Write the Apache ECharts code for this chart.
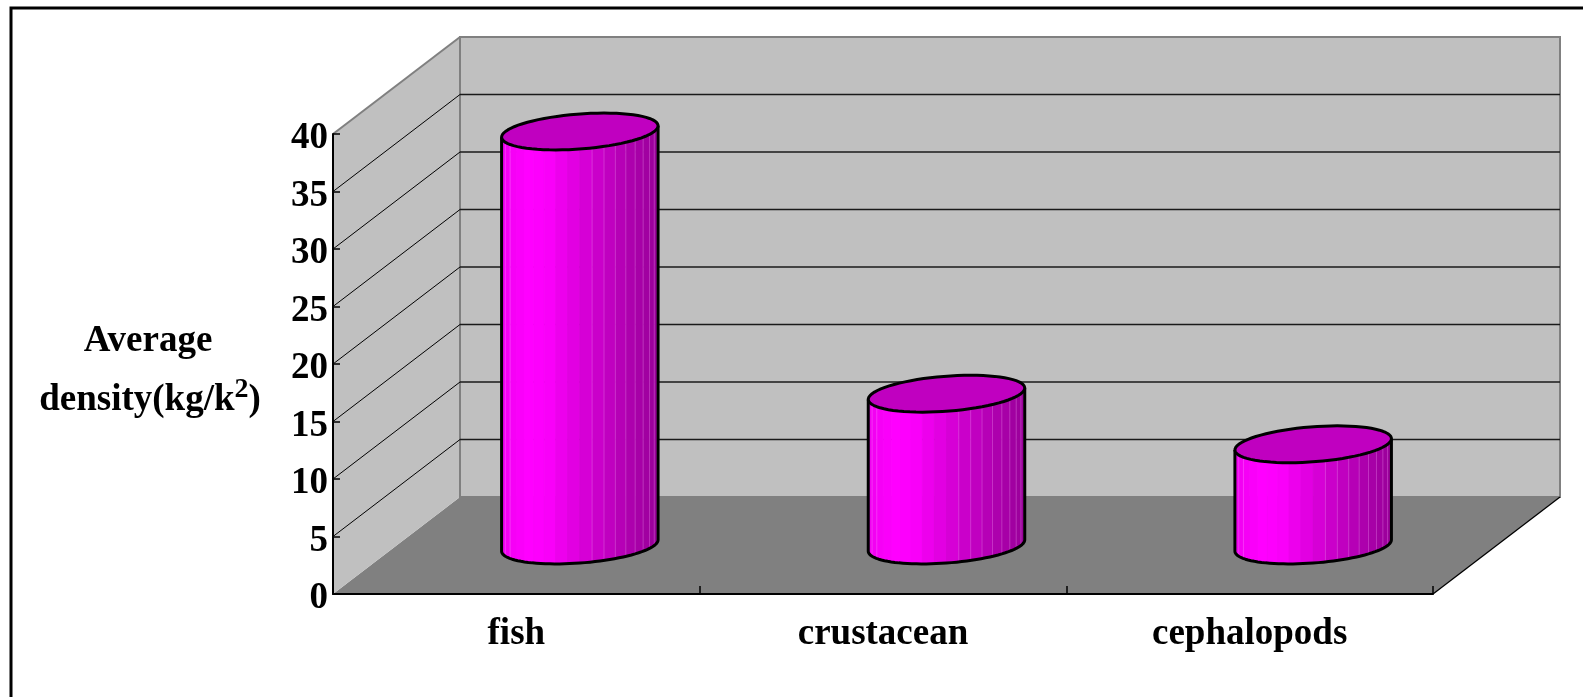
<!DOCTYPE html>
<html>
<head>
<meta charset="utf-8">
<title>Average density</title>
<script src="https://cdn.jsdelivr.net/npm/echarts@6/dist/echarts.min.js"></script>
<style>
  html, body { margin: 0; padding: 0; background: #fff; }
  #chart { width: 1583px; height: 697px; }
</style>
</head>
<body>
<div id="chart"></div>
<script>
// ---- data ----
const categories = ['fish', 'crustacean', 'cephalopods'];
const densities = [36, 13.2, 8.8];
const yTicks = [0, 5, 10, 15, 20, 25, 30, 35, 40];
const yTitleTop = 'Average';
const yTitleUnit = ['density(kg/k', '2', ')'];   // base text, superscript, closing

// ---- look ----
const FONT = 'Liberation Serif';
const DEPTH = [127, -97];          // screen offset from the front plane to the back wall
const CYL_RX = 0.203;              // cylinder half width, as share of a category band
const CYL_RZ = 0.19;               // cylinder half depth, as share of the full depth
const FACETS = 20;                 // visible side facets per cylinder
const SHADE = [[0, 0xf0], [0.18, 0xff], [0.3, 0xfa], [0.55, 0xd4], [0.8, 0xb0], [1, 0x98]];

function shade(s) {
  for (let i = 1; i < SHADE.length; i++) {
    if (s <= SHADE[i][0]) {
      const [s0, c0] = SHADE[i - 1], [s1, c1] = SHADE[i];
      const c = Math.round(c0 + (c1 - c0) * (s - s0) / (s1 - s0));
      return 'rgb(' + c + ',0,' + c + ')';
    }
  }
  const c = SHADE[SHADE.length - 1][1];
  return 'rgb(' + c + ',0,' + c + ')';
}

// side wall, back wall, floor and their gridlines
function renderWalls(params, api) {
  const cs = params.coordSys;
  const x0 = cs.x, x1 = cs.x + cs.width;
  const dx = DEPTH[0], dy = DEPTH[1];
  const yZero = api.coord([0, yTicks[0]])[1];
  const yTop = api.coord([0, yTicks[yTicks.length - 1]])[1];
  const kids = [];
  kids.push({ type: 'polygon', shape: { points: [[x0, yZero], [x1, yZero], [x1 + dx, yZero + dy], [x0 + dx, yZero + dy]] },
              style: { fill: '#808080' } });
  kids.push({ type: 'polygon', shape: { points: [[x0, yZero], [x0, yTop], [x0 + dx, yTop + dy], [x0 + dx, yZero + dy]] },
              style: { fill: '#c0c0c0' } });
  kids.push({ type: 'rect', shape: { x: x0 + dx, y: yTop + dy, width: x1 - x0, height: yZero - yTop },
              style: { fill: '#c0c0c0', stroke: '#808080', lineWidth: 2 } });
  yTicks.slice(1, -1).forEach(function (v) {
    const y = api.coord([0, v])[1];
    kids.push({ type: 'line', shape: { x1: x0, y1: y, x2: x0 + dx, y2: y + dy },
                style: { stroke: '#000', lineWidth: 1 } });
    kids.push({ type: 'line', shape: { x1: x0 + dx, y1: y + dy, x2: x1 + dx, y2: y + dy },
                style: { stroke: '#1a1a1a', lineWidth: 1.3 } });
  });
  kids.push({ type: 'line', shape: { x1: x0, y1: yTop, x2: x0 + dx, y2: yTop + dy },
              style: { stroke: '#808080', lineWidth: 2 } });
  kids.push({ type: 'line', shape: { x1: x1, y1: yZero, x2: x1 + dx, y2: yZero + dy },
              style: { stroke: '#000', lineWidth: 1.3 } });
  return { type: 'group', children: kids };
}

// one faceted cylinder standing in the middle of the depth
function renderCylinder(params, api) {
  const cat = api.value(0), val = api.value(1);
  const base = api.coord([cat, 0]);
  const top = api.coord([cat, val]);
  const band = api.size([1, 0])[0];
  const cx = base[0] + DEPTH[0] * 0.5;
  const yb = base[1] + DEPTH[1] * 0.5;
  const yt = top[1] + DEPTH[1] * 0.5;
  const a = band * CYL_RX;
  const bx = DEPTH[0] * CYL_RZ, by = DEPTH[1] * CYL_RZ;
  const pt = function (t, y) { return [cx + a * Math.cos(t) + bx * Math.sin(t), y + by * Math.sin(t)]; };
  const tR = Math.atan2(bx, a);
  const tL = tR + Math.PI;
  const xL = pt(tL, 0)[0], xR = pt(tR, 0)[0];
  const kids = [];
  // side facets
  for (let k = 0; k < FACETS; k++) {
    const t0 = tL + Math.PI * k / FACETS, t1 = tL + Math.PI * (k + 1) / FACETS;
    const xm = (pt(t0, 0)[0] + pt(t1, 0)[0]) / 2;
    const col = shade((xm - xL) / (xR - xL));
    kids.push({ type: 'polygon', shape: { points: [pt(t0, yt), pt(t1, yt), pt(t1, yb), pt(t0, yb)] },
                style: { fill: col, stroke: col, lineWidth: 0.8 } });
  }
  // faint seams between some facets
  for (let k = 1; k < FACETS; k++) {
    if (k > 3 && k < 11) continue;
    const t = tL + Math.PI * k / FACETS;
    const p0 = pt(t, yt), p1 = pt(t, yb);
    kids.push({ type: 'line', shape: { x1: p0[0], y1: p0[1], x2: p1[0], y2: p1[1] },
                style: { stroke: 'rgba(255,160,255,0.3)', lineWidth: 1 } });
  }
  // outline of the side
  const outline = [pt(tL, yt)];
  for (let k = 0; k <= 48; k++) outline.push(pt(tL + Math.PI * k / 48, yb));
  outline.push(pt(tR + 2 * Math.PI, yt));
  kids.push({ type: 'polyline', shape: { points: outline },
              style: { fill: null, stroke: '#000', lineWidth: 3, lineJoin: 'round' } });
  // top cap
  const cap = [];
  for (let k = 0; k < 72; k++) cap.push(pt(2 * Math.PI * k / 72, yt));
  kids.push({ type: 'polygon', shape: { points: cap },
              style: { fill: '#c000c0', stroke: '#000', lineWidth: 3, lineJoin: 'round' } });
  return { type: 'group', children: kids };
}

const labelFont = { color: '#000', fontFamily: FONT, fontWeight: 'bold', fontSize: 37 };

const chart = echarts.init(document.getElementById('chart'), null, { renderer: 'canvas' });
chart.setOption({
  animation: false,
  backgroundColor: '#fff',
  grid: { left: 333, right: 150, top: 134, bottom: 103, outerBoundsMode: 'none', containLabel: false },
  xAxis: {
    type: 'category',
    data: categories,
    boundaryGap: true,
    z: 10,
    axisLine: { show: true, lineStyle: { color: '#000', width: 2 } },
    axisTick: { show: true, inside: true, length: 8, interval: 0, lineStyle: { color: '#000', width: 1.5 } },
    axisLabel: Object.assign({ margin: 22, interval: 0 }, labelFont),
    splitLine: { show: false }
  },
  yAxis: {
    type: 'value',
    min: yTicks[0],
    max: yTicks[yTicks.length - 1],
    interval: yTicks[1] - yTicks[0],
    z: 10,
    axisLine: { show: true, lineStyle: { color: '#000', width: 2 } },
    axisTick: { show: true, inside: true, length: 7, lineStyle: { color: '#000', width: 1.5 } },
    axisLabel: Object.assign({
      margin: 5,
      formatter: function (v) { return '{v|' + v + '}'; },
      rich: { v: Object.assign({ padding: [9, 0, 0, 0] }, labelFont) }
    }, labelFont),
    splitLine: { show: false }
  },
  graphic: [
    { type: 'rect', silent: true, z: 100,
      shape: { x: 11, y: 8, width: 1600, height: 720 },
      style: { fill: 'none', stroke: '#000', lineWidth: 3 } },
    { type: 'text', silent: true, z: 100, x: 148, y: 341,
      style: { text: yTitleTop, font: 'bold 37px "' + FONT + '"', fill: '#000',
               align: 'center', verticalAlign: 'middle', textAlign: 'center', textVerticalAlign: 'middle' } },
    { type: 'text', silent: true, z: 100, x: 150, y: 400,
      style: {
        text: '{a|' + yTitleUnit[0] + '}{s|' + yTitleUnit[1] + '}{a|' + yTitleUnit[2] + '}',
        fill: '#000', align: 'center', verticalAlign: 'middle', textAlign: 'center', textVerticalAlign: 'middle',
        rich: {
          a: { fontFamily: FONT, fontWeight: 'bold', fontSize: 37, lineHeight: 48, fill: '#000', color: '#000' },
          s: { fontFamily: FONT, fontWeight: 'bold', fontSize: 28, lineHeight: 28, verticalAlign: 'top', fill: '#000', color: '#000' }
        }
      } }
  ],
  series: [
    { type: 'custom', name: 'walls', silent: true, z: 1, clip: false,
      renderItem: renderWalls, data: [[0, 0]] },
    { type: 'custom', name: 'Average density', silent: true, z: 3, clip: false,
      renderItem: renderCylinder,
      data: densities.map(function (v, i) { return [i, v]; }) }
  ]
});
</script>
</body>
</html>
